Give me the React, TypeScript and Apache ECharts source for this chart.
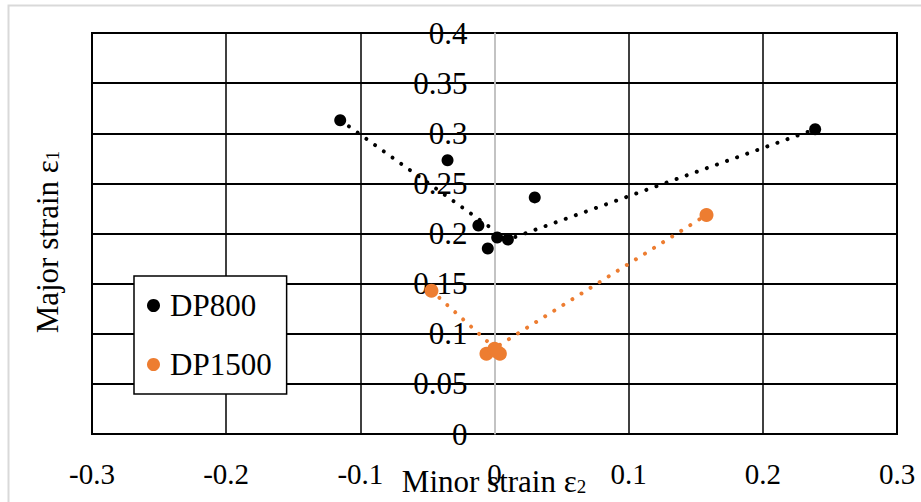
import React, { useEffect, useRef } from "react";
import * as echarts from "echarts";

// ---- data ----
const xTicks = [-0.3, -0.2, -0.1, 0, 0.1, 0.2, 0.3];
const yTicks = [0, 0.05, 0.1, 0.15, 0.2, 0.25, 0.3, 0.35, 0.4];

const dp800X = [-0.115, -0.035, 0.03, -0.012, 0.002, 0.01, -0.005, 0.239];
const dp800Y = [0.313, 0.273, 0.236, 0.208, 0.196, 0.194, 0.185, 0.304];

const dp1500X = [-0.047, -0.006, 0.0, 0.004, 0.002, 0.158];
const dp1500Y = [0.143, 0.08, 0.085, 0.08, 0.082, 0.2185];

const dp800TrendLeft = [
  [-0.115, 0.313],
  [-0.002, 0.205],
];
const dp800TrendRight = [
  [0.008, 0.193],
  [0.239, 0.304],
];
const dp1500TrendLeft = [
  [-0.047, 0.143],
  [-0.005, 0.092],
];
const dp1500TrendRight = [
  [0.004, 0.089],
  [0.158, 0.2185],
];

const ORANGE = "#ED7D31";
const FONT = "'Liberation Serif', 'Times New Roman', serif";

const fmt = (v: number) => String(parseFloat(v.toFixed(3)));

export default function App() {
  const ref = useRef<HTMLDivElement>(null);

  useEffect(() => {
    if (!ref.current) return;
    const chart = echarts.init(ref.current, undefined, { renderer: "svg" });

    const dotted = (color: string) => ({
      color,
      width: 4,
      type: [0.01, 10.7] as number[],
      cap: "round" as const,
      opacity: 1,
    });

    const trend = (data: number[][], color: string) => ({
      type: "line",
      data,
      symbol: "none",
      showSymbol: false,
      silent: true,
      lineStyle: dotted(color),
      z: 1,
    });

    const xSplitColors = xTicks.map((t) => (t === 0 ? "#bfbfbf" : "#000"));

    const gridLeft = 92;
    const gridRight = 24;
    const plotW = 921 - gridLeft - gridRight;
    const zeroOffset =
      -((0 - xTicks[0]) / (xTicks[xTicks.length - 1] - xTicks[0])) * plotW;

    chart.setOption({
      animation: false,
      backgroundColor: "#fff",
      textStyle: { fontFamily: FONT, color: "#000" },
      grid: {
        left: gridLeft,
        right: gridRight,
        top: 33,
        bottom: 68,
        show: true,
        borderColor: "#000",
        borderWidth: 2,
        containLabel: false,
        outerBoundsMode: "none",
      },
      xAxis: {
        type: "value",
        min: xTicks[0],
        max: xTicks[xTicks.length - 1],
        interval: 0.1,
        axisLine: { show: false },
        axisTick: { show: false },
        axisLabel: {
          fontFamily: FONT,
          fontSize: 29,
          color: "#000",
          margin: 25,
          formatter: (v: number) => fmt(v),
        },
        splitLine: {
          show: true,
          lineStyle: { color: xSplitColors, width: 1.5 },
        },
      },
      yAxis: {
        type: "value",
        min: yTicks[0],
        max: yTicks[yTicks.length - 1],
        interval: 0.05,
        offset: zeroOffset,
        axisLine: {
          show: true,
          onZero: false,
          lineStyle: { color: "#bfbfbf", width: 1.5 },
        },
        axisTick: { show: false },
        axisLabel: {
          fontFamily: FONT,
          fontSize: 31,
          color: "#000",
          margin: 27,
          formatter: (v: number) => fmt(v),
        },
        splitLine: {
          show: true,
          lineStyle: { color: "#000", width: 2 },
        },
      },
      legend: {
        orient: "vertical",
        left: 134,
        top: 276,
        data: [
          { name: "DP800", icon: "circle" },
          { name: "DP1500", icon: "circle" },
        ],
        itemWidth: 13,
        itemHeight: 13,
        itemGap: 28,
        padding: [14, 15, 14, 13],
        backgroundColor: "#fff",
        borderColor: "#000",
        borderWidth: 1.5,
        borderRadius: 0,
        itemStyle: { opacity: 1 },
        textStyle: {
          fontFamily: FONT,
          fontSize: 31,
          color: "#000",
          padding: [0, 0, 0, 5],
        },
      },
      graphic: [
        {
          type: "rect",
          shape: { x: 8.5, y: 5.5, width: 2000, height: 2000 },
          style: { fill: "none", stroke: "#d9d9d9", lineWidth: 2 },
          silent: true,
          z: -10,
        },
        {
          type: "text",
          x: 494,
          y: 481,
          z: 100,
          style: {
            text: "Minor strain ε{s|2}",
            fontFamily: FONT,
            fontSize: 31,
            lineHeight: 30,
            fill: "#000",
            align: "center",
            verticalAlign: "middle",
            rich: {
              s: {
                fontFamily: FONT,
                fontSize: 19,
                lineHeight: 6,
                verticalAlign: "bottom",
                fill: "#000",
              },
            },
          },
        },
        {
          type: "text",
          x: 47,
          y: 242,
          rotation: Math.PI / 2,
          z: 100,
          style: {
            text: "Major strain ε{s|1}",
            fontFamily: FONT,
            fontSize: 31,
            lineHeight: 30,
            fill: "#000",
            align: "center",
            verticalAlign: "middle",
            rich: {
              s: {
                fontFamily: FONT,
                fontSize: 19,
                lineHeight: 6,
                verticalAlign: "bottom",
                fill: "#000",
              },
            },
          },
        },
      ],
      series: [
        trend(dp800TrendLeft, "#000"),
        trend(dp800TrendRight, "#000"),
        trend(dp1500TrendLeft, ORANGE),
        trend(dp1500TrendRight, ORANGE),
        {
          name: "DP800",
          type: "scatter",
          data: dp800X.map((x, i) => [x, dp800Y[i]]),
          symbol: "circle",
          symbolSize: 12,
          itemStyle: { color: "#000", opacity: 1 },
          z: 3,
        },
        {
          name: "DP1500",
          type: "scatter",
          data: dp1500X.map((x, i) => [x, dp1500Y[i]]),
          symbol: "circle",
          symbolSize: 14,
          itemStyle: { color: ORANGE, opacity: 1 },
          z: 3,
        },
      ],
    });

    return () => chart.dispose();
  }, []);

  return (
    <div
      ref={ref}
      style={{ position: "fixed", left: 0, top: 0, width: 921, height: 502 }}
    />
  );
}
